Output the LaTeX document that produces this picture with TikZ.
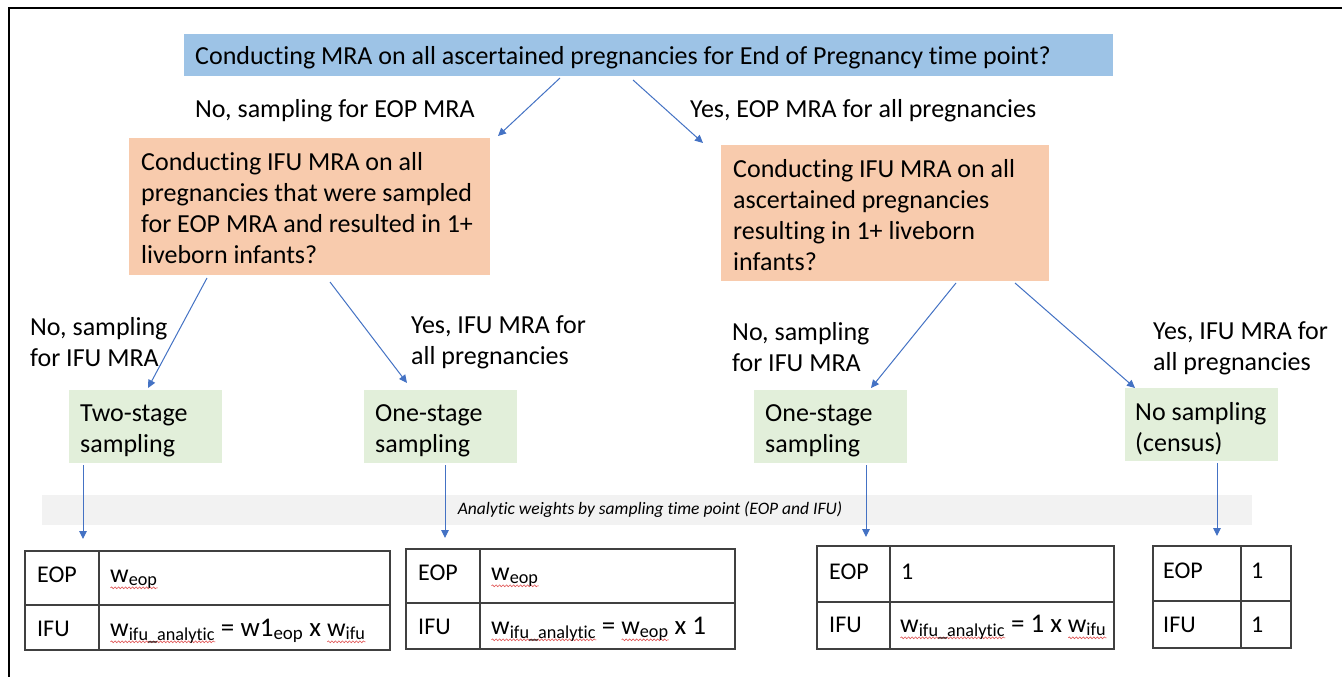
\documentclass[tikz,border=0pt]{standalone}
\usepackage{fontspec}
\setmainfont{Carlito}[Ligatures=NoCommon]
\usetikzlibrary{arrows.meta,decorations.pathmorphing}
\definecolor{qblue}{HTML}{9DC3E6}
\definecolor{qorange}{HTML}{F8CBAD}
\definecolor{qgreen}{HTML}{E2EFDA}
\definecolor{qgray}{HTML}{F2F2F2}
\definecolor{ablue}{HTML}{4472C4}
\definecolor{tline}{HTML}{404040}
\definecolor{spred}{HTML}{E05050}
\newlength\splw
\newcommand\spl[1]{\settowidth\splw{#1}\rlap{\raisebox{-7pt}{\tikz[x=1pt,y=1pt]\draw[spred,line width=0.6pt,decorate,decoration={snake,amplitude=0.9pt,segment length=3.5pt}] (0,0) -- (\splw,0);}}#1}
\newcommand\mainf{\fontsize{26}{31}\selectfont}
\newcommand\tabf{\fontsize{24}{29}\selectfont}
\newcommand\bigf{\fontsize{27}{31}\selectfont}
\newcommand\wf{\fontsize{26}{31}\selectfont}
\begin{document}
\begin{tikzpicture}[x=1pt,y=-1pt,
  box/.style={anchor=north west, inner sep=0pt, outer sep=0pt},
  txt/.style={anchor=west, inner sep=0pt, align=left, font=\mainf, text=black},
  arr/.style={draw=ablue, line width=1pt, -{Triangle[length=8pt,width=7.5pt]}},
  cell/.style={anchor=north west, draw=tline, line width=1.5pt, inner sep=0pt, outer sep=0pt},
  ctxt/.style={anchor=base west, inner sep=0pt, font=\tabf},
]
\useasboundingbox (0,0) rectangle (1342,677);
\fill[white] (0,0) rectangle (1342,677);
\draw[line width=2.5pt] (9,677) -- (9,8) -- (1342,8);

% top question
\node[box, fill=qblue, minimum width=929pt, minimum height=42pt] (q0) at (184,34) {};
\node[txt] (q0t) at ([shift={(11,3)}]q0.west) {Conducting MRA on all ascertained pregnancies for End of Pregnancy time point?};

\node[txt] (l0) at (195,111) {No, sampling for EOP MRA};
\node[txt] (l1) at (690,111) {Yes, EOP MRA for all pregnancies};

% second level
\node[box, fill=qorange, minimum width=361pt, minimum height=137pt] (q1) at (129,138) {};
\node[txt] (q1t) at ([shift={(12,2)}]q1.west) {Conducting IFU MRA on all\\pregnancies that were sampled\\for EOP MRA and resulted in 1+\\liveborn infants?};
\node[box, fill=qorange, minimum width=328pt, minimum height=136pt] (q2) at (721,145) {};
\node[txt] (q2t) at ([shift={(12,2)}]q2.west) {Conducting IFU MRA on all\\ascertained pregnancies\\resulting in 1+ liveborn\\infants?};

\node[txt] (l2) at (30,342) {No, sampling\\for IFU MRA};
\node[txt] (l3) at (411,342) {Yes, IFU MRA for\\all pregnancies};
\node[txt] (l4) at (732,347) {No, sampling\\for IFU MRA};
\node[txt] (l5) at (1153,348) {Yes, IFU MRA for\\all pregnancies};

% outcomes
\node[box, fill=qgreen, minimum width=153pt, minimum height=73pt] (g1) at (69,390) {};
\node[txt] (g1t) at ([shift={(11,4)}]g1.west) {Two-stage\\sampling};
\node[box, fill=qgreen, minimum width=153pt, minimum height=73pt] (g2) at (364,390) {};
\node[txt] (g2t) at ([shift={(11,4)}]g2.west) {One-stage\\sampling};
\node[box, fill=qgreen, minimum width=153pt, minimum height=73pt] (g3) at (754,390) {};
\node[txt] (g3t) at ([shift={(11,4)}]g3.west) {One-stage\\sampling};
\node[box, fill=qgreen, minimum width=153pt, minimum height=73pt] (g4) at (1125,388) {};
\node[txt] (g4t) at ([shift={(10,4)}]g4.west) {No sampling\\(census)};

% gray bar
\node[box, fill=qgray, minimum width=1210pt, minimum height=30pt] (bar) at (42,495) {};
\node[inner sep=0pt, font=\fontsize{17.5}{20}\selectfont\itshape] (bart) at ([xshift=3pt]bar.center) {Analytic weights by sampling time point (EOP and IFU)};

% arrows
\draw[arr] ([shift={(376,2)}]q0.south west) -- ([shift={(8,-2)}]q1.north east);
\draw[arr] ([shift={(449,4)}]q0.south west) -- ([shift={(-18,-2)}]q2.north west);
\draw[arr] ([shift={(78,3)}]q1.south west) -- ([shift={(79,-2)}]g1.north west);
\draw[arr] ([shift={(201,7)}]q1.south west) -- ([shift={(43,-7)}]g2.north west);
\draw[arr] ([shift={(235,2)}]q2.south west) -- ([shift={(117,-2)}]g3.north west);
\draw[arr] ([shift={(294,2)}]q2.south west) -- ([shift={(10,0)}]g4.north west);

% tables
\node[cell, minimum width=74pt, minimum height=54pt] (t1a) at (25,551) {};
\node[cell, minimum width=291pt, minimum height=54pt] (t1b) at (99,551) {};
\node[cell, minimum width=74pt, minimum height=45pt] (t1c) at (25,605) {};
\node[cell, minimum width=291pt, minimum height=45pt] (t1d) at (99,605) {};
\node[ctxt] (t1at) at ([shift={(12,31)}]t1a.north west) {EOP};
\node[ctxt] (t1bt) at ([shift={(11,31)}]t1b.north west) {\spl{\wf w\textsubscript{eop}}};
\node[ctxt] (t1ct) at ([shift={(12,31)}]t1c.north west) {IFU};
\node[ctxt] (t1dt) at ([shift={(11,31)}]t1d.north west) {\spl{\wf w\textsubscript{ifu\_analytic}} {\bigf = w1\textsubscript{eop} x} \spl{\wf w\textsubscript{ifu}}};

\node[cell, minimum width=74pt, minimum height=54pt] (t2a) at (406,549) {};
\node[cell, minimum width=255pt, minimum height=54pt] (t2b) at (480,549) {};
\node[cell, minimum width=74pt, minimum height=46pt] (t2c) at (406,603) {};
\node[cell, minimum width=255pt, minimum height=46pt] (t2d) at (480,603) {};
\node[ctxt] (t2at) at ([shift={(12,31)}]t2a.north west) {EOP};
\node[ctxt] (t2bt) at ([shift={(11,31)}]t2b.north west) {\spl{\wf w\textsubscript{eop}}};
\node[ctxt] (t2ct) at ([shift={(12,31)}]t2c.north west) {IFU};
\node[ctxt] (t2dt) at ([shift={(11,31)}]t2d.north west) {\spl{\wf w\textsubscript{ifu\_analytic}} {\bigf =} \spl{\wf w\textsubscript{eop}} {\bigf x 1}};

\node[cell, minimum width=73pt, minimum height=56pt] (t3a) at (817,546) {};
\node[cell, minimum width=224pt, minimum height=56pt] (t3b) at (890,546) {};
\node[cell, minimum width=73pt, minimum height=47pt] (t3c) at (817,602) {};
\node[cell, minimum width=224pt, minimum height=47pt] (t3d) at (890,602) {};
\node[ctxt] (t3at) at ([shift={(12,33)}]t3a.north west) {EOP};
\node[ctxt] (t3bt) at ([shift={(11,33)}]t3b.north west) {1};
\node[ctxt] (t3ct) at ([shift={(12,30)}]t3c.north west) {IFU};
\node[ctxt] (t3dt) at ([shift={(10,30)}]t3d.north west) {\spl{\wf w\textsubscript{ifu\_analytic}} {\bigf = 1 x} \spl{\wf w\textsubscript{ifu}}};

\node[cell, minimum width=88pt, minimum height=55pt] (t4a) at (1153,546) {};
\node[cell, minimum width=50pt, minimum height=55pt] (t4b) at (1241,546) {};
\node[cell, minimum width=88pt, minimum height=47pt] (t4c) at (1153,601) {};
\node[cell, minimum width=50pt, minimum height=47pt] (t4d) at (1241,601) {};
\node[ctxt] (t4at) at ([shift={(10,32)}]t4a.north west) {EOP};
\node[ctxt] (t4bt) at ([shift={(10,32)}]t4b.north west) {1};
\node[ctxt] (t4ct) at ([shift={(10,31)}]t4c.north west) {IFU};
\node[ctxt] (t4dt) at ([shift={(10,31)}]t4d.north west) {1};

% down arrows
\draw[arr] ([shift={(14,2)}]g1.south west) -- ([shift={(58,-12)}]t1a.north west);
\draw[arr] ([shift={(81,2)}]g2.south west) -- ([shift={(39,-11)}]t2a.north west);
\draw[arr] ([shift={(112,2)}]g3.south west) -- ([shift={(49,-9)}]t3a.north west);
\draw[arr] ([shift={(92,2)}]g4.south west) -- ([shift={(64,-10)}]t4a.north west);
\end{tikzpicture}
\end{document}
